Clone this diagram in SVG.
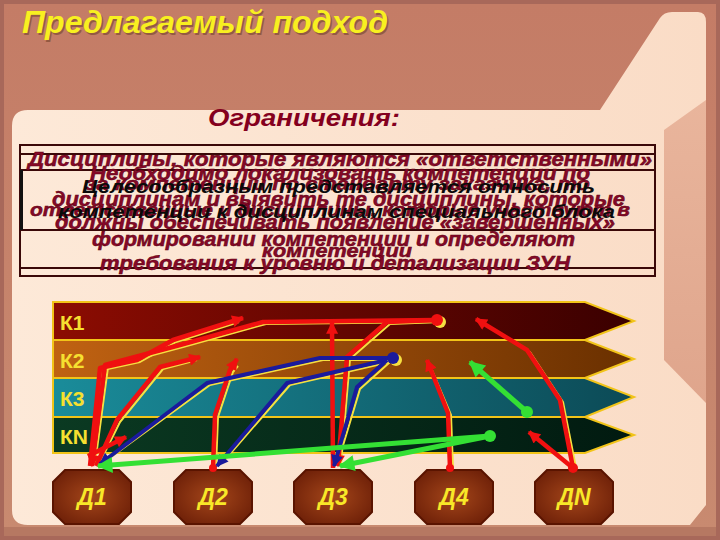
<svg xmlns="http://www.w3.org/2000/svg" width="720" height="540" viewBox="0 0 720 540">
<defs>
<linearGradient id="gPanel" x1="0" y1="0" x2="1" y2="0"><stop offset="0" stop-color="#fde9d8"/><stop offset="1" stop-color="#fadcc6"/></linearGradient>
<linearGradient id="gTitle" x1="0" y1="0" x2="0" y2="1"><stop offset="0" stop-color="#c47c66"/><stop offset="1" stop-color="#c88a70"/></linearGradient>
<linearGradient id="gStrip" x1="0" y1="0" x2="0" y2="1"><stop offset="0" stop-color="#e9b59c"/><stop offset="1" stop-color="#dfa58c"/></linearGradient>
<linearGradient id="gK1" x1="0" y1="0" x2="1" y2="0"><stop offset="0" stop-color="#8c0c02"/><stop offset="1" stop-color="#3a0000"/></linearGradient>
<linearGradient id="gK2" x1="0" y1="0" x2="1" y2="0"><stop offset="0" stop-color="#c06212"/><stop offset="1" stop-color="#6a3000"/></linearGradient>
<linearGradient id="gK3" x1="0" y1="0" x2="1" y2="0"><stop offset="0" stop-color="#1a8c9a"/><stop offset="1" stop-color="#0c4a56"/></linearGradient>
<linearGradient id="gKN" x1="0" y1="0" x2="1" y2="0"><stop offset="0" stop-color="#0b3a22"/><stop offset="1" stop-color="#011a10"/></linearGradient>
<radialGradient id="gNode" cx="0.5" cy="0.5" r="0.6"><stop offset="0" stop-color="#a4461a"/><stop offset="1" stop-color="#6e2008"/></radialGradient>
<marker id="aR" viewBox="0 0 10 10" refX="9" refY="5" markerWidth="14" markerHeight="12" markerUnits="userSpaceOnUse" orient="auto"><path d="M0,0 L10,5 L0,10 Z" fill="#f01010"/></marker>
<marker id="aB" viewBox="0 0 10 10" refX="9" refY="5" markerWidth="14" markerHeight="12" markerUnits="userSpaceOnUse" orient="auto"><path d="M0,0 L10,5 L0,10 Z" fill="#1a1a9c"/></marker>
<marker id="aG" viewBox="0 0 10 10" refX="9" refY="5" markerWidth="18" markerHeight="16" markerUnits="userSpaceOnUse" orient="auto"><path d="M0,0 L10,5 L0,10 Z" fill="#34e034"/></marker>
</defs>
<style>
.rt{font-family:"Liberation Sans",Arial,sans-serif;font-weight:bold;font-style:italic;fill:#860828;stroke:#5a0010;stroke-width:0.5}
.bt{font-family:"Liberation Sans",Arial,sans-serif;font-weight:bold;font-style:italic;fill:#0a0a0a}
.kl{font-family:"Liberation Sans",Arial,sans-serif;font-weight:bold;font-size:21px;fill:#f6e030}
.dl{font-family:"Liberation Sans",Arial,sans-serif;font-weight:bold;font-style:italic;font-size:23px;fill:#f8e828;text-anchor:middle}
.band{stroke:#f2c418;stroke-width:2}
.node{fill:url(#gNode);stroke:#5a1400;stroke-width:2}
.red{fill:none;stroke:#f01010;stroke-width:4.5;stroke-linejoin:round}
.blue{fill:none;stroke:#1a1a9c;stroke-width:4;stroke-linejoin:round}
.green{fill:none;stroke:#34e034;stroke-width:5;stroke-linejoin:round}
.ysh{fill:none;stroke:#f6e040;stroke-width:2;stroke-linejoin:round}
.bx{fill:none;stroke:#3a0808;stroke-width:2}
</style>

<rect x="0" y="0" width="720" height="540" fill="#a8685a"/>
<rect x="4" y="4" width="712" height="530" fill="url(#gTitle)"/>
<path d="M12,126 Q12,110 28,110 L600,110 L660,18 Q664,12 672,12 L698,12 Q706,12 706,22 L706,505 L690,525 L28,525 Q12,525 12,510 Z" fill="url(#gPanel)"/>
<path d="M664,130 L706,100 L706,403 L664,360 Z" fill="url(#gStrip)"/>
<rect x="4" y="527" width="712" height="9" fill="#b67862"/>

<text x="22" y="33" font-family="Liberation Sans, Arial, sans-serif" font-weight="bold" font-style="italic" font-size="32" fill="#3a1a00" opacity="0.35" textLength="366" lengthAdjust="spacingAndGlyphs" transform="translate(1.5,1.5)">Предлагаемый подход</text>
<text x="22" y="33" font-family="Liberation Sans, Arial, sans-serif" font-weight="bold" font-style="italic" font-size="32" fill="#f8f020" textLength="366" lengthAdjust="spacingAndGlyphs">Предлагаемый подход</text>
<text x="208" y="126" font-family="Liberation Sans, Arial, sans-serif" font-weight="bold" font-style="italic" font-size="24" fill="#84001e" textLength="192" lengthAdjust="spacingAndGlyphs">Ограничения:</text>

<g id="textbox">
<rect class="bx" x="20" y="145" width="635" height="131"/>
<line class="bx" x1="20" y1="154" x2="655" y2="154"/>
<line class="bx" x1="20" y1="170" x2="655" y2="170"/>
<line class="bx" x1="20" y1="230" x2="655" y2="230"/>
<line class="bx" x1="20" y1="268" x2="655" y2="268"/>
<rect x="20" y="170" width="3" height="60" fill="#111"/>
<text class="rt" x="28" y="166" font-size="21" textLength="624" lengthAdjust="spacingAndGlyphs">Дисциплины, которые являются «ответственными»</text>
<text class="rt" x="90" y="180" font-size="20" textLength="500" lengthAdjust="spacingAndGlyphs">Необходимо локализовать компетенции по</text>
<text class="rt" x="85" y="190" font-size="19" textLength="505" lengthAdjust="spacingAndGlyphs">за компетенции по стандарту заказчика, то</text>
<text class="rt" x="52" y="206" font-size="20" textLength="573" lengthAdjust="spacingAndGlyphs">дисциплинам и выявить те дисциплины, которые</text>
<text class="rt" x="30" y="216" font-size="19" textLength="600" lengthAdjust="spacingAndGlyphs">ответственные и дисциплины, которые участвуют в</text>
<text class="rt" x="55" y="229" font-size="20" textLength="560" lengthAdjust="spacingAndGlyphs">должны обеспечивать появление «завершенных»</text>
<text class="rt" x="92" y="246" font-size="20" textLength="483" lengthAdjust="spacingAndGlyphs">формировании компетенции и определяют</text>
<text class="rt" x="262" y="257" font-size="19" textLength="150" lengthAdjust="spacingAndGlyphs">компетенции</text>
<text class="rt" x="100" y="270" font-size="20" textLength="470" lengthAdjust="spacingAndGlyphs">требования к уровню и детализации ЗУН</text>
<text class="bt" x="82" y="193" font-size="19" textLength="513" lengthAdjust="spacingAndGlyphs">Целесообразным представляется относить</text>
<text class="bt" x="58" y="218" font-size="19" textLength="557" lengthAdjust="spacingAndGlyphs">компетенции к дисциплинам специального блока</text>
</g>

<g id="K1"><path class="band" d="M53,302 L585,302 L634,321 L585,340 L53,340 Z" fill="url(#gK1)"/><text class="kl" x="60" y="330">К1</text></g>
<g id="K2"><path class="band" d="M53,340 L585,340 L634,359 L585,378 L53,378 Z" fill="url(#gK2)"/><text class="kl" x="60" y="368">К2</text></g>
<g id="K3"><path class="band" d="M53,378 L585,378 L634,397 L585,417 L53,417 Z" fill="url(#gK3)"/><text class="kl" x="60" y="406">К3</text></g>
<g id="KN"><path class="band" d="M53,417 L585,417 L634,435 L585,453 L53,453 Z" fill="url(#gKN)"/><text class="kl" x="60" y="444">КN</text></g>

<g id="D1"><path class="node" d="M65,470 L119,470 L131,482 L131,512 L119,524 L65,524 L53,512 L53,482 Z"/><text class="dl" x="92" y="505">Д1</text></g>
<g id="D2"><path class="node" d="M186,470 L240,470 L252,482 L252,512 L240,524 L186,524 L174,512 L174,482 Z"/><text class="dl" x="213" y="505">Д2</text></g>
<g id="D3"><path class="node" d="M306,470 L360,470 L372,482 L372,512 L360,524 L306,524 L294,512 L294,482 Z"/><text class="dl" x="333" y="505">Д3</text></g>
<g id="D4"><path class="node" d="M427,470 L481,470 L493,482 L493,512 L481,524 L427,524 L415,512 L415,482 Z"/><text class="dl" x="454" y="505">Д4</text></g>
<g id="DN"><path class="node" d="M547,470 L601,470 L613,482 L613,512 L601,524 L547,524 L535,512 L535,482 Z"/><text class="dl" x="574" y="505">ДN</text></g>

<g id="connectors">
<g transform="translate(3,2)">
<path class="ysh" d="M437,320 L263,322 L180,345 L105,365 L92,462"/>
<path class="ysh" d="M90,462 L100,368 L137,360 L173,340 L236,320"/>
<path class="ysh" d="M437,320 L387,322 L347,357 L338,462"/>
<path class="ysh" d="M96,462 L117,420 L160,367 L194,358"/>
<path class="ysh" d="M213,466 L215,415 L230,370 L235,364"/>
<path class="ysh" d="M450,466 L448,413 L428,366"/>
<path class="ysh" d="M573,466 L560,400 L527,350 L482,323"/>
<path class="ysh" d="M393,358 L320,358 L207,383 L104,458"/>
<path class="ysh" d="M387,360 L287,383 L220,460"/>
<path class="ysh" d="M387,360 L357,387 L335,460"/>
</g>
<path class="red" d="M437,320 L263,322 L180,345 L105,365 L92,466" marker-end="url(#aR)"/>
<path class="red" d="M90,466 L100,368 L137,360 L173,340 L243,318" marker-end="url(#aR)"/>
<path class="red" d="M437,320 L387,322 L347,357 L338,466" marker-end="url(#aR)"/>
<path class="red" d="M333,468 L332,323" marker-end="url(#aR)"/>
<path class="red" d="M96,466 L117,420 L160,367 L200,357" marker-end="url(#aR)"/>
<path class="red" d="M88,456 L126,437" marker-end="url(#aR)"/>
<path class="red" d="M213,468 L215,415 L230,370 L237,359" marker-end="url(#aR)"/>
<path class="red" d="M450,468 L448,413 L427,360" marker-end="url(#aR)"/>
<path class="red" d="M573,468 L560,400 L527,350 L476,319" marker-end="url(#aR)"/>
<path class="red" d="M573,468 L529,432" marker-end="url(#aR)"/>
<circle cx="440" cy="322" r="6" fill="#f6e040"/>
<circle cx="437" cy="320" r="6" fill="#f01010"/>
<circle cx="213" cy="468" r="4" fill="#f01010"/>
<circle cx="450" cy="468" r="4" fill="#f01010"/>
<circle cx="573" cy="468" r="5" fill="#f01010"/>
<path class="blue" d="M393,358 L320,358 L207,383 L100,464" marker-end="url(#aB)"/>
<path class="blue" d="M387,360 L287,383 L217,466" marker-end="url(#aB)"/>
<path class="blue" d="M387,360 L357,387 L334,466" marker-end="url(#aB)"/>
<circle cx="396" cy="360" r="6" fill="#f6e040"/>
<circle cx="393" cy="358" r="6" fill="#1a1a9c"/>
<path class="green" d="M490,436 L98,466" marker-end="url(#aG)"/>
<path class="green" d="M490,436 L340,466" marker-end="url(#aG)"/>
<path class="green" d="M527,412 L470,362" marker-end="url(#aG)"/>
<circle cx="490" cy="436" r="6" fill="#34e034"/>
<circle cx="527" cy="412" r="6" fill="#34e034"/>
</g>
</svg>
